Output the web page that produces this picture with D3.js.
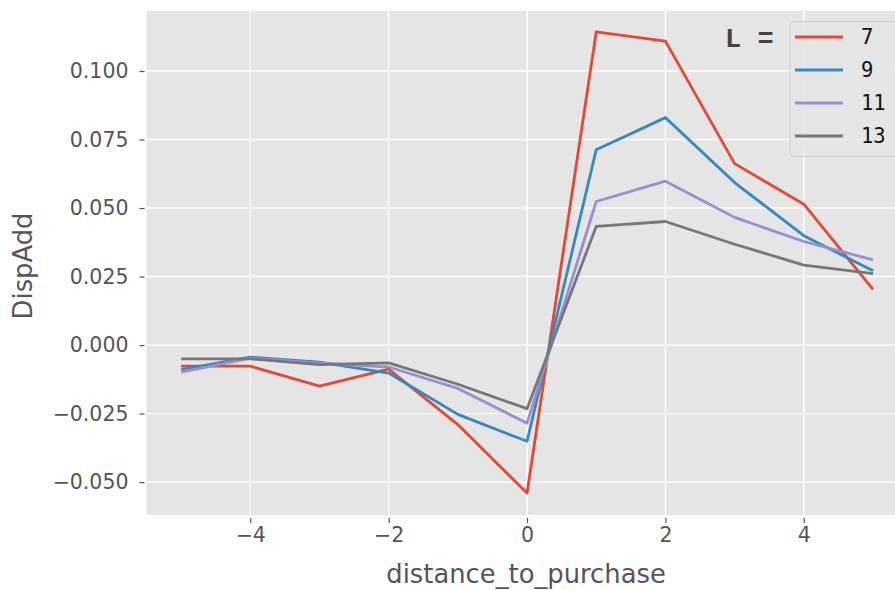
<!DOCTYPE html>
<html>
<head>
<meta charset="utf-8">
<script src="https://cdn.jsdelivr.net/npm/d3@7/dist/d3.min.js"></script>
<style>
  html, body { margin: 0; padding: 0; background: #ffffff; }
  svg { display: block; }
</style>
</head>
<body>
<svg id="chart" width="895" height="590"></svg>
<script>
// ---- data ----
const distances = [-5, -4, -3, -2, -1, 0, 1, 2, 3, 4, 5];
const seriesNames = ["7", "9", "11", "13"];
const values7  = [-0.0077, -0.0077, -0.0150, -0.0088, -0.0290, -0.0540, 0.1143, 0.1109, 0.0662, 0.0514, 0.0203];
const values9  = [-0.0090, -0.0044, -0.0062, -0.0102, -0.0253, -0.0351, 0.0713, 0.0830, 0.0593, 0.0399, 0.0271];
const values11 = [-0.0099, -0.0048, -0.0066, -0.0080, -0.0158, -0.0285, 0.0524, 0.0598, 0.0466, 0.0378, 0.0311];
const values13 = [-0.0050, -0.0050, -0.0071, -0.0065, -0.0143, -0.0232, 0.0433, 0.0451, 0.0368, 0.0292, 0.0261];
const xTicks = [-4, -2, 0, 2, 4];
const yTicks = [-0.05, -0.025, 0, 0.025, 0.05, 0.075, 0.1];
const colors = ["#E24A33", "#348ABD", "#988ED5", "#777777"];

const allSeries = [values7, values9, values11, values13].map((vals, i) => ({
  name: seriesNames[i],
  color: colors[i],
  points: distances.map((d, j) => ({ x: d, y: vals[j] }))
}));

// ---- layout ----
const svg = d3.select("#chart");
const pLeft = 146.5, pRight = 907.6, pTop = 11, pBottom = 515;

const x = d3.scaleLinear().domain([-5.5, 5.5]).range([pLeft, pRight]);
const y = d3.scaleLinear().domain([-0.062, 0.1219]).range([pBottom, pTop]);

// background
svg.append("rect")
  .attr("x", pLeft).attr("y", pTop)
  .attr("width", pRight - pLeft).attr("height", pBottom - pTop)
  .attr("fill", "#E5E5E5");

// grid
const grid = svg.append("g");
grid.selectAll("line.gx").data(xTicks).enter().append("line")
  .attr("x1", d => x(d)).attr("x2", d => x(d))
  .attr("y1", pTop).attr("y2", pBottom)
  .attr("stroke", "#ffffff").attr("stroke-width", 1.4);
grid.selectAll("line.gy").data(yTicks).enter().append("line")
  .attr("y1", d => y(d)).attr("y2", d => y(d))
  .attr("x1", pLeft).attr("x2", pRight)
  .attr("stroke", "#ffffff").attr("stroke-width", 1.4);

// axes
const fmtY = v => {
  const s = d3.format(".3f")(Math.abs(v));
  return (v < -1e-12 ? "\u2212" : "") + s;
};
const fmtX = v => (v < 0 ? "\u2212" : "") + Math.abs(v);

const xAxis = svg.append("g")
  .attr("transform", `translate(0,${pBottom})`)
  .call(d3.axisBottom(x).tickValues(xTicks).tickFormat(fmtX).tickSize(5).tickPadding(7));
const yAxis = svg.append("g")
  .attr("transform", `translate(${pLeft},0)`)
  .call(d3.axisLeft(y).tickValues(yTicks).tickFormat(fmtY).tickSize(5).tickPadding(13));

[xAxis, yAxis].forEach(a => {
  a.select(".domain").remove();
  a.selectAll(".tick line").attr("stroke", "#555555").attr("stroke-width", 1.2);
  a.selectAll(".tick text")
    .attr("fill", "#555555")
    .style("font-family", "'DejaVu Sans', sans-serif")
    .style("font-size", "20.5px");
});
xAxis.selectAll(".tick line").attr("transform", "translate(0,3)");
yAxis.selectAll(".tick line").attr("transform", "translate(-2,0)");

// lines
const line = d3.line().x(d => x(d.x)).y(d => y(d.y));
svg.append("g").selectAll("path").data(allSeries).enter().append("path")
  .attr("d", d => line(d.points))
  .attr("fill", "none")
  .attr("stroke", d => d.color)
  .attr("stroke-width", 2.8)
  .attr("stroke-linejoin", "round")
  .attr("stroke-linecap", "butt");

// axis labels
svg.append("text")
  .attr("x", (pLeft + pRight) / 2 - 1).attr("y", 583)
  .attr("text-anchor", "middle")
  .attr("fill", "#555555")
  .style("font-family", "'DejaVu Sans', sans-serif")
  .style("font-size", "25.8px")
  .text("distance_to_purchase");

svg.append("text")
  .attr("transform", `translate(32,266) rotate(-90)`)
  .attr("text-anchor", "middle")
  .attr("fill", "#555555")
  .style("font-family", "'DejaVu Sans', sans-serif")
  .style("font-size", "25.8px")
  .text("DispAdd");

// legend
const lg = svg.append("g");
lg.append("rect")
  .attr("x", 790).attr("y", 21.5)
  .attr("width", 130).attr("height", 135)
  .attr("rx", 4).attr("ry", 4)
  .attr("fill", "#E5E5E5").attr("fill-opacity", 0.85)
  .attr("stroke", "#cccccc").attr("stroke-width", 1);

const rows = lg.selectAll("g.row").data(allSeries).enter().append("g")
  .attr("transform", (d, i) => `translate(0,${37 + i * 33})`);
rows.append("line")
  .attr("x1", 795).attr("x2", 843)
  .attr("y1", 0).attr("y2", 0)
  .attr("stroke", d => d.color).attr("stroke-width", 2.8);
rows.append("text")
  .attr("x", 861).attr("y", 0).attr("dy", "0.36em")
  .attr("fill", "#111111")
  .style("font-family", "'DejaVu Sans Mono', monospace")
  .style("font-size", "20.5px")
  .text(d => d.name);

svg.append("text")
  .attr("x", 725).attr("y", 37).attr("dy", "0.36em")
  .attr("fill", "#444444")
  .style("font-family", "'Liberation Mono', 'Courier New', monospace")
  .style("font-weight", "bold")
  .style("font-size", "27px")
  .text("L =");
</script>
</body>
</html>
